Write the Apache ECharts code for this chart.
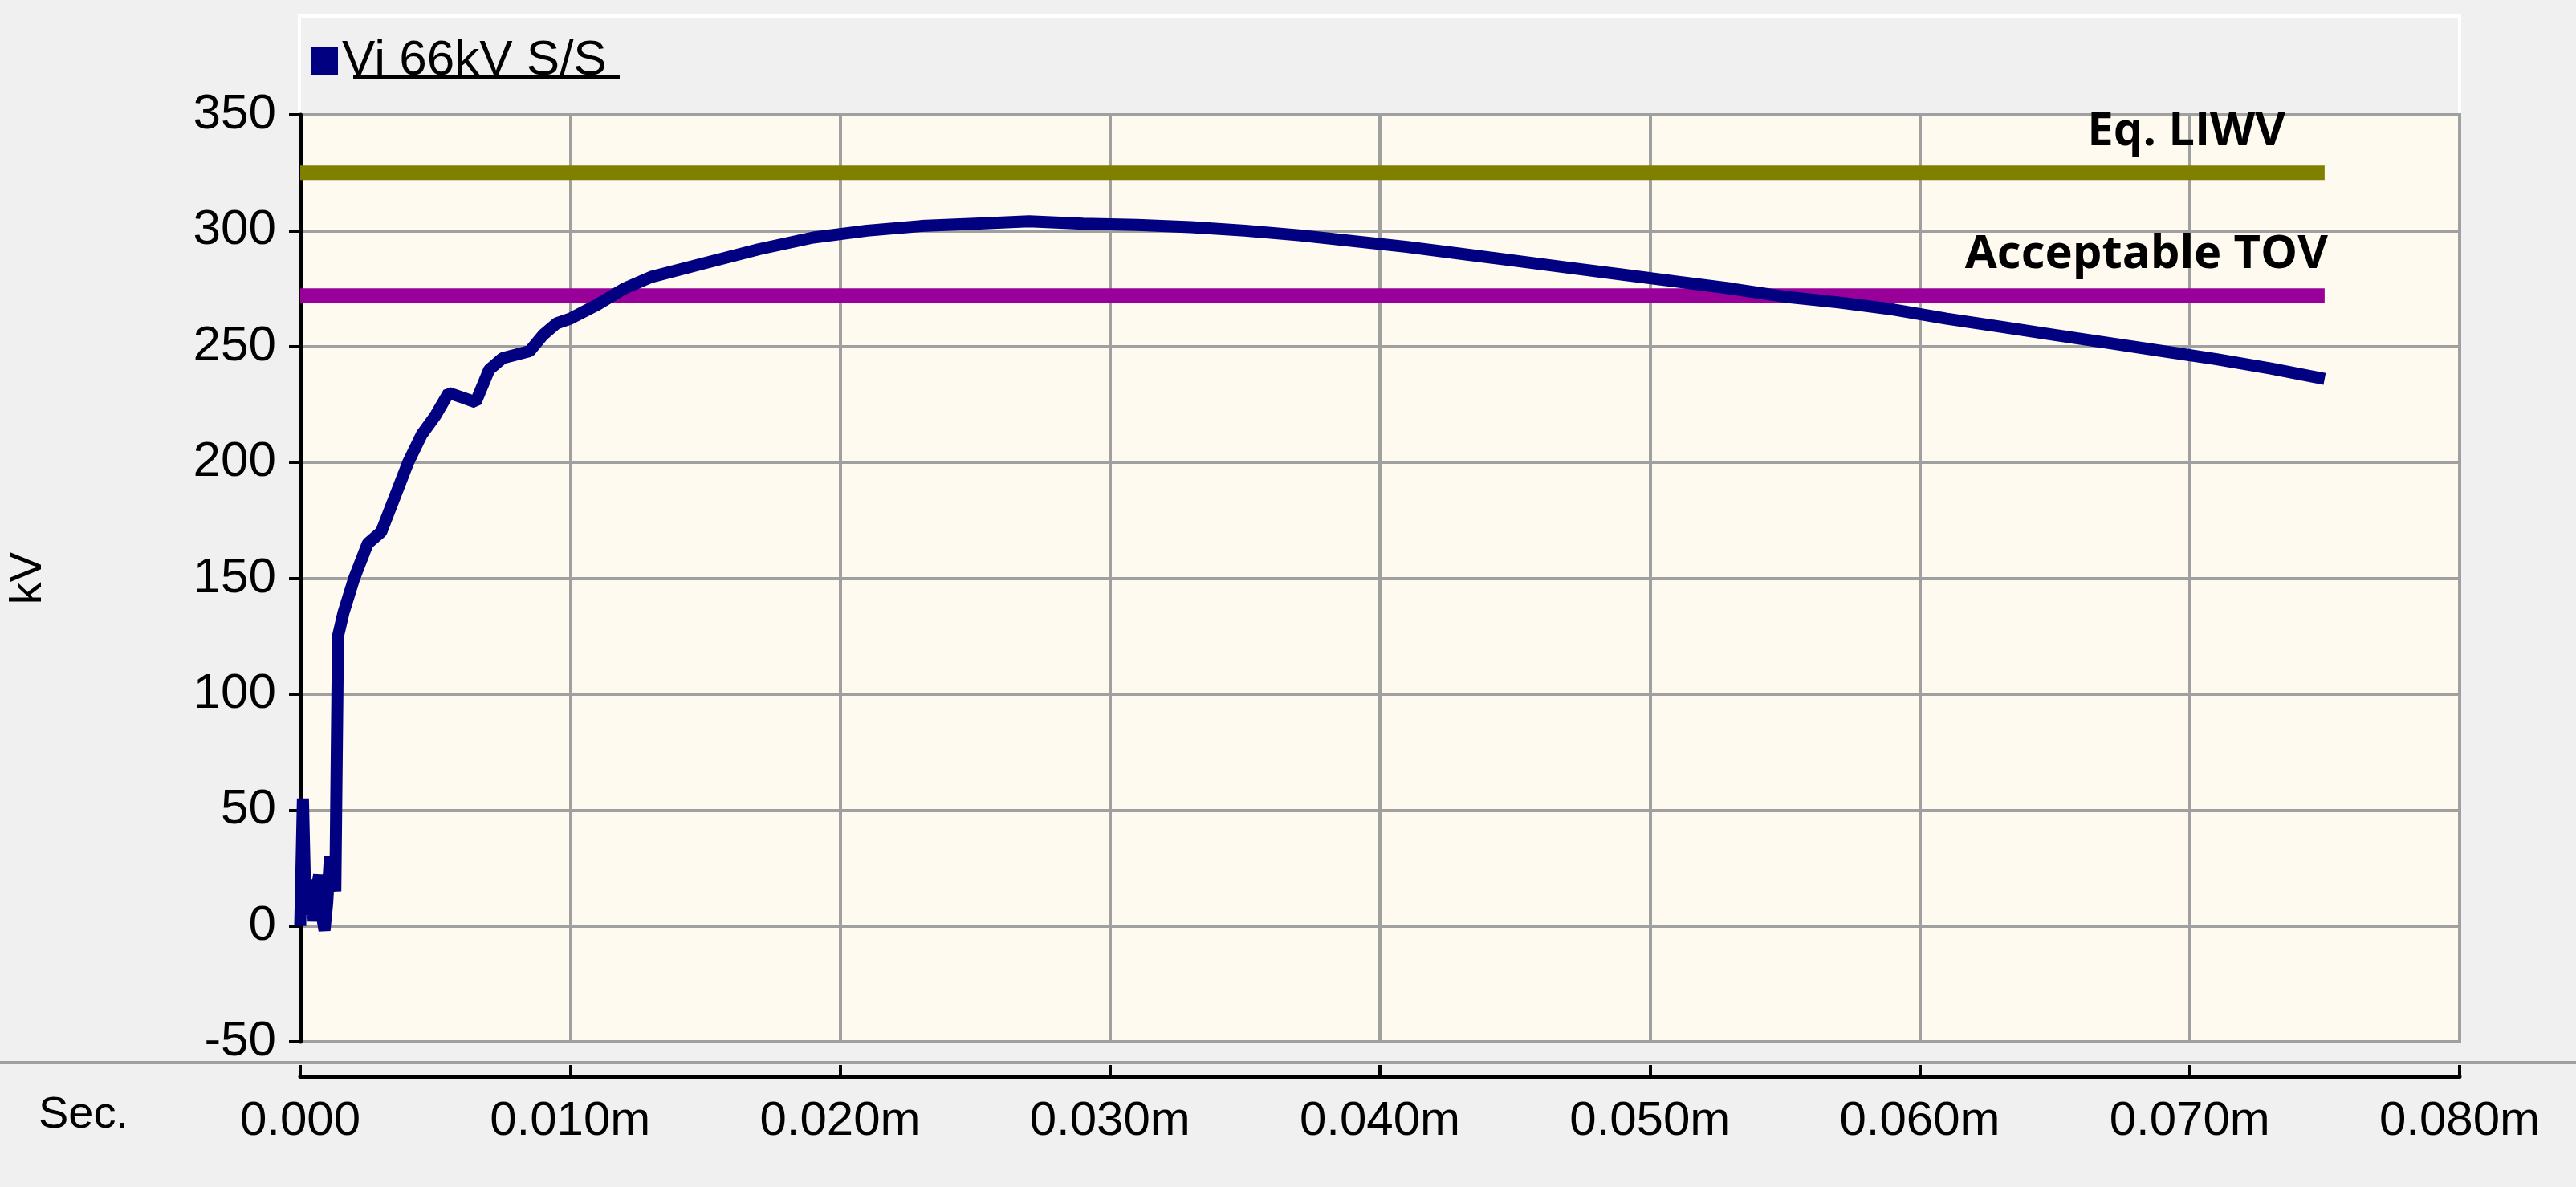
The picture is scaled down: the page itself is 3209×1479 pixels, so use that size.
<!DOCTYPE html>
<html>
<head>
<meta charset="utf-8">
<script src="https://cdn.jsdelivr.net/npm/echarts@6/dist/echarts.min.js"></script>
<style>html,body{margin:0;padding:0;background:#f0f0f0;}#main{width:3209px;height:1479px;}</style>
</head>
<body>
<div id="main"></div>
<script>
// time in ms, voltage in kV
var timeMs = [0, 0.0001, 0.0002, 0.0003, 0.0004, 0.0005, 0.0006, 0.0007, 0.0008, 0.0009, 0.0010, 0.0011, 0.0012, 0.0013, 0.0014, 0.0016, 0.0020, 0.0025, 0.0030, 0.0035, 0.0040, 0.0045, 0.0050, 0.0055, 0.0060, 0.0065, 0.0070, 0.0075, 0.0085, 0.0090, 0.0095, 0.0100, 0.0110, 0.0120, 0.0130, 0.0150, 0.0170, 0.0190, 0.0210, 0.0230, 0.0250, 0.0270, 0.0290, 0.0310, 0.0330, 0.0350, 0.0370, 0.0390, 0.0410, 0.0430, 0.0450, 0.0470, 0.0490, 0.0510, 0.0530, 0.0550, 0.0570, 0.0590, 0.0610, 0.0630, 0.0650, 0.0670, 0.0690, 0.0710, 0.0730, 0.0750];
var viKv = [0, 55, 5, 12, 20, 2, 15, 22, 5, -2, 10, 30, 25, 15, 125, 135, 150, 165, 170, 185, 200, 212, 220, 230, 228, 226, 240, 245, 248, 255, 260, 262, 268, 275, 280, 286, 292, 297, 300, 302, 303, 304, 303, 302.5, 301.5, 300, 298, 295.5, 293, 290, 287, 284, 281, 278, 275, 271.5, 269, 266, 262, 258.5, 255, 251.5, 248, 244.5, 240.5, 236];
var liwvKv = 325;
var tovKv = 272;
var endMs = 0.075;
var seriesName = 'Vi 66kV S/S';

var myChart = echarts.init(document.getElementById('main'));
var font = 'Liberation Sans';
var option = {
    backgroundColor: '#f0f0f0',
    animation: false,
    grid: { left: 373, right: 145, top: 143, bottom: 181, show: true, backgroundColor: '#fefaf0', borderColor: '#a0a0a0', borderWidth: 4 },
    legend: {
        data: [{ name: seriesName, icon: 'rect' }],
        left: 382, top: 40, itemWidth: 34, itemHeight: 36, itemGap: 14,
        textStyle: { fontFamily: font, fontSize: 62, color: '#000' }
    },
    graphic: [
        { type: 'rect', z: -1, shape: { x: 373, y: 20, width: 2691, height: 123 }, style: { fill: '#f0f0f0', stroke: '#ffffff', lineWidth: 4 } },
        { type: 'line', shape: { x1: 440, y1: 96, x2: 772, y2: 96 }, style: { stroke: '#000', lineWidth: 5 } },
        { type: 'line', shape: { x1: 0, y1: 1324, x2: 3209, y2: 1324 }, style: { stroke: '#a0a0a0', lineWidth: 4 } },
        { type: 'text', left: 48, top: 1362, style: { text: 'Sec.', font: '56px ' + font, fill: '#000' } }
    ],
    xAxis: {
        type: 'value', min: 0, max: 0.08, interval: 0.01, offset: 43,
        axisLine: { onZero: false, lineStyle: { color: '#000', width: 5 } },
        axisTick: { show: true, inside: true, length: 14, lineStyle: { color: '#000', width: 4 } },
        axisLabel: { fontFamily: font, fontSize: 60, color: '#000', margin: 26,
            formatter: function (v) { return v === 0 ? '0.000' : v.toFixed(3) + 'm'; } },
        splitLine: { show: true, lineStyle: { color: '#a0a0a0', width: 4 } }
    },
    yAxis: {
        type: 'value', min: -50, max: 350, interval: 50,
        name: 'kV', nameLocation: 'middle', nameGap: 310, nameRotate: 90,
        nameTextStyle: { fontFamily: font, fontSize: 56, color: '#000' },
        axisLine: { show: true, lineStyle: { color: '#000', width: 5 } },
        axisTick: { show: true, length: 14, lineStyle: { color: '#000', width: 4 } },
        axisLabel: { fontFamily: font, fontSize: 62, color: '#000', margin: 30 },
        splitLine: { show: true, lineStyle: { color: '#a0a0a0', width: 4 } }
    },
    series: [
        {
            name: 'Eq. LIWV', type: 'line', symbol: 'none', color: '#808000',
            lineStyle: { width: 18 }, z: 2,
            data: [[0, liwvKv], [endMs, liwvKv]],
            endLabel: { show: true, formatter: 'Eq. LIWV', fontFamily: 'Open Sans', fontWeight: 'bold', fontSize: 58, color: '#000',
                align: 'right', verticalAlign: 'bottom', offset: [-57, -22] }
        },
        {
            name: 'Acceptable TOV', type: 'line', symbol: 'none', color: '#990099',
            lineStyle: { width: 18 }, z: 2,
            data: [[0, tovKv], [endMs, tovKv]],
            endLabel: { show: true, formatter: 'Acceptable TOV', fontFamily: 'Open Sans', fontWeight: 'bold', fontSize: 58, color: '#000',
                align: 'right', verticalAlign: 'bottom', offset: [-4, -22] }
        },
        {
            name: seriesName, type: 'line', symbol: 'none', color: '#000080',
            lineStyle: { width: 15 }, z: 3,
            data: timeMs.map(function (t, i) { return [t, viKv[i]]; })
        }
    ]
};
myChart.setOption(option);
</script>
</body>
</html>
